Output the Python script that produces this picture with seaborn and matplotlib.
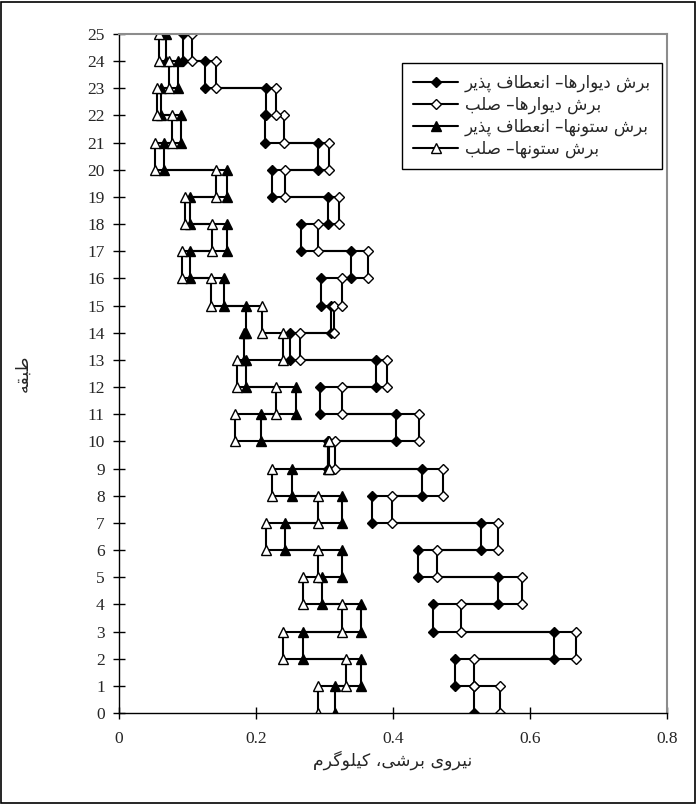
import numpy as np
import pandas as pd
import seaborn as sns
import matplotlib.pyplot as plt
from matplotlib.patches import Rectangle

# story shear (stories 1..25)
walls_ductile = [0.519, 0.490, 0.636, 0.458, 0.554, 0.437, 0.529, 0.369, 0.442, 0.305,
                 0.405, 0.293, 0.375, 0.249, 0.310, 0.295, 0.339, 0.266, 0.305, 0.224,
                 0.290, 0.213, 0.215, 0.125, 0.094]
walls_rigid = [0.557, 0.519, 0.668, 0.500, 0.589, 0.464, 0.554, 0.398, 0.473, 0.315,
               0.438, 0.325, 0.391, 0.264, 0.314, 0.325, 0.363, 0.290, 0.321, 0.242,
               0.307, 0.241, 0.230, 0.142, 0.107]
cols_ductile = [0.315, 0.354, 0.268, 0.354, 0.297, 0.326, 0.242, 0.325, 0.253, 0.305,
                0.208, 0.259, 0.186, 0.183, 0.185, 0.154, 0.103, 0.158, 0.104, 0.157,
                0.066, 0.090, 0.062, 0.086, 0.069]
cols_rigid = [0.291, 0.331, 0.239, 0.325, 0.268, 0.291, 0.215, 0.290, 0.224, 0.307,
              0.169, 0.230, 0.173, 0.239, 0.209, 0.135, 0.092, 0.136, 0.096, 0.142,
              0.052, 0.077, 0.056, 0.073, 0.059]
levels = np.arange(26)

names = ["برش دیوارها– انعطاف پذیر", "برش دیوارها– صلب",
         "برش ستونها– انعطاف پذیر", "برش ستونها– صلب"]
xlabel = "نیروی برشی، کیلوگرم"
ylabel = "طبقه"

# contextual forms (isolated, final, initial, medial) - matplotlib does no shaping
FORMS = {
    'ا': ('\uFE8D', '\uFE8E', None, None), 'ب': ('\uFE8F', '\uFE90', '\uFE91', '\uFE92'),
    'ت': ('\uFE95', '\uFE96', '\uFE97', '\uFE98'), 'د': ('\uFEA9', '\uFEAA', None, None),
    'ذ': ('\uFEAB', '\uFEAC', None, None), 'ر': ('\uFEAD', '\uFEAE', None, None),
    'س': ('\uFEB1', '\uFEB2', '\uFEB3', '\uFEB4'), 'ش': ('\uFEB5', '\uFEB6', '\uFEB7', '\uFEB8'),
    'ص': ('\uFEB9', '\uFEBA', '\uFEBB', '\uFEBC'), 'ط': ('\uFEC1', '\uFEC2', '\uFEC3', '\uFEC4'),
    'ع': ('\uFEC9', '\uFECA', '\uFECB', '\uFECC'), 'ف': ('\uFED1', '\uFED2', '\uFED3', '\uFED4'),
    'ق': ('\uFED5', '\uFED6', '\uFED7', '\uFED8'), 'ل': ('\uFEDD', '\uFEDE', '\uFEDF', '\uFEE0'),
    'م': ('\uFEE1', '\uFEE2', '\uFEE3', '\uFEE4'), 'ن': ('\uFEE5', '\uFEE6', '\uFEE7', '\uFEE8'),
    'ه': ('\uFEE9', '\uFEEA', '\uFEEB', '\uFEEC'), 'و': ('\uFEED', '\uFEEE', None, None),
    'پ': ('\uFB56', '\uFB57', '\uFB58', '\uFB59'), 'ک': ('\uFB8E', '\uFB8F', '\uFB90', '\uFB91'),
    'گ': ('\uFB92', '\uFB93', '\uFB94', '\uFB95'), 'ی': ('\uFBFC', '\uFBFD', '\uFBFE', '\uFBFF'),
}


def shape(text):
    out = []
    for i, ch in enumerate(text):
        if ch not in FORMS:
            out.append(ch)
            continue
        prev = text[i - 1] if i > 0 else ''
        nxt = text[i + 1] if i < len(text) - 1 else ''
        jp = prev in FORMS and FORMS[prev][2] is not None
        jn = FORMS[ch][2] is not None and nxt in FORMS
        iso, fin, ini, med = FORMS[ch]
        out.append(med if (jp and jn) else fin if jp else ini if jn else iso)
    return ''.join(reversed(out))


def steps(v):
    x = np.repeat(np.asarray(v), 2)
    y = np.column_stack([levels[:-1], levels[1:]]).ravel()
    return pd.DataFrame({'x': x, 'y': y})


sns.set_style("ticks")
plt.rcParams['font.family'] = ['Liberation Serif', 'DejaVu Sans']

fig = plt.figure(figsize=(6.96, 8.05), dpi=100)
ax = fig.add_axes([0.171, 0.1143, 0.787, 0.8435])

series = [walls_ductile, walls_rigid, cols_ductile, cols_rigid]
markers = ['D', 'D', '^', '^']
fills = ['black', 'white', 'black', 'white']
sizes = [5.2, 5.2, 6.6, 6.6]
for vals, name, m, fc, ms in zip(series, names, markers, fills, sizes):
    sns.lineplot(data=steps(vals), x='x', y='y', sort=False, estimator=None, ax=ax,
                 color='black', lw=1.5, marker=m, markersize=ms, markerfacecolor=fc,
                 markeredgecolor='black', markeredgewidth=1.0, label=shape(name))

ax.set_xlim(0, 0.8)
ax.set_ylim(0, 25)
ax.set_xticks([0, 0.2, 0.4, 0.6, 0.8])
ax.set_xticklabels(['0', '0.2', '0.4', '0.6', '0.8'])
ax.set_yticks(levels)
ax.tick_params(axis='both', direction='inout', length=8.5, width=1, labelsize=12.5, color='black')
ax.tick_params(axis='x', pad=9)
ax.tick_params(axis='y', pad=6)
for s in ['top', 'right']:
    ax.spines[s].set_color('#8c8c8c')
    ax.spines[s].set_linewidth(1.5)
for s in ['left', 'bottom']:
    ax.spines[s].set_color('black')
    ax.spines[s].set_linewidth(1.0)

ax.set_xlabel(shape(xlabel), fontsize=12.5, family=['DejaVu Sans'], labelpad=2)
ax.set_ylabel(shape(ylabel), fontsize=12.5, family=['DejaVu Sans'], labelpad=40)

leg = ax.legend(loc='upper right', bbox_to_anchor=(0.991, 0.957), borderaxespad=0,
                frameon=True, fancybox=False, edgecolor='black', framealpha=1,
                prop={'family': 'DejaVu Sans', 'size': 12}, handlelength=2.7,
                handletextpad=0.4, labelspacing=0.22, borderpad=0.65)
leg.get_frame().set_linewidth(1.0)

fig.patches.append(Rectangle((0.002, 0.002), 0.996, 0.996, transform=fig.transFigure,
                             fill=False, edgecolor='black', lw=1.2))

fig.savefig('out.png', dpi=100)
